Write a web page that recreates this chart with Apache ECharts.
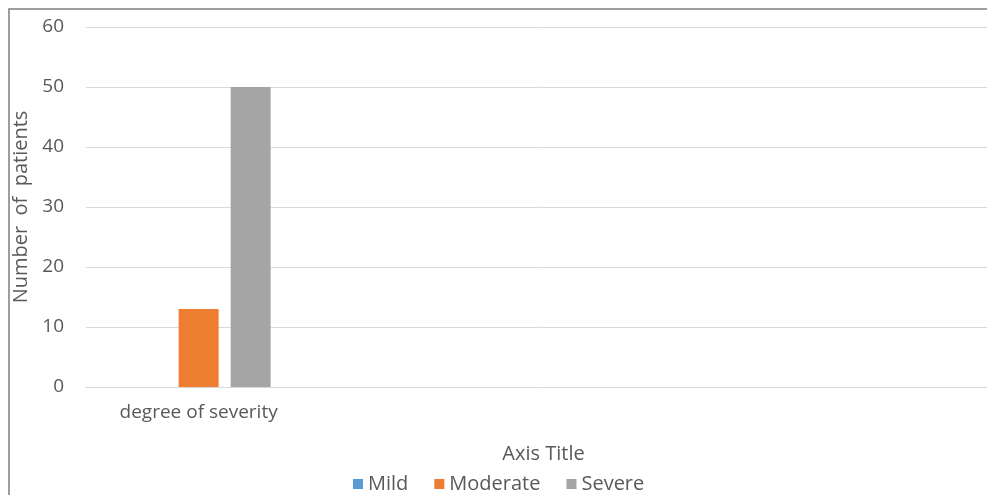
<!DOCTYPE html>
<html>
<head>
<meta charset="utf-8">
<script src="https://cdn.jsdelivr.net/npm/echarts@6/dist/echarts.min.js"></script>
<style>
  html, body { margin: 0; padding: 0; background: #ffffff; }
  #chart { width: 987px; height: 495px; }
</style>
</head>
<body>
<div id="chart"></div>
<script>
// Categories along the x axis (only the first one is labelled)
const categories = ['degree of severity', '', '', ''];
// Patient counts per severity group
const mildValues = [0, null, null, null];
const moderateValues = [13, null, null, null];
const severeValues = [50, null, null, null];
// Value axis ticks
const yTicks = [0, 10, 20, 30, 40, 50, 60];

const seriesNames = ['Mild', 'Moderate', 'Severe'];
const seriesColors = ['#5b9bd5', '#ed7d31', '#a5a5a5'];
const seriesValues = [mildValues, moderateValues, severeValues];

const textColor = '#595959';
const fontFamily = '"Open Sans", sans-serif';

const chart = echarts.init(document.getElementById('chart'));

chart.setOption({
  animation: false,
  backgroundColor: '#ffffff',
  textStyle: { fontFamily: fontFamily },
  graphic: [
    {
      type: 'polyline',
      shape: { points: [[9, 600], [9, 9], [1100, 9]] },
      style: { stroke: '#7f7f7f', lineWidth: 1.5, fill: null },
      silent: true
    }
  ],
  legend: {
    data: seriesNames,
    left: 348,
    top: 469,
    itemWidth: 10,
    itemHeight: 10,
    itemGap: 26,
    icon: 'rect',
    textStyle: { color: textColor, fontSize: 20, fontFamily: fontFamily }
  },
  grid: {
    left: 86,
    top: 27,
    width: 914,
    height: 360,
    containLabel: false
  },
  xAxis: {
    type: 'category',
    data: categories,
    name: 'Axis Title',
    nameLocation: 'middle',
    nameGap: 57,
    nameTextStyle: { color: textColor, fontSize: 20, fontFamily: fontFamily, padding: [0, 0, 0, 14] },
    axisLine: { show: true, lineStyle: { color: '#d9d9d9', width: 1 } },
    axisTick: { show: false },
    axisLabel: { color: textColor, fontSize: 19, margin: 16, fontFamily: fontFamily },
    splitLine: { show: false }
  },
  yAxis: {
    type: 'value',
    min: yTicks[0],
    max: yTicks[yTicks.length - 1],
    interval: yTicks[1] - yTicks[0],
    name: 'Number  of  patients',
    nameLocation: 'middle',
    nameGap: 50,
    nameTextStyle: { color: textColor, fontSize: 20, fontFamily: fontFamily },
    axisLine: { show: false },
    axisTick: { show: false },
    axisLabel: { color: textColor, fontSize: 19, margin: 22, fontFamily: fontFamily },
    splitLine: { show: true, lineStyle: { color: '#d9d9d9', width: 1 } }
  },
  series: seriesNames.map((name, i) => ({
    name: name,
    type: 'bar',
    data: seriesValues[i],
    barWidth: 40,
    barGap: '30%',
    itemStyle: { color: seriesColors[i] }
  }))
});
</script>
</body>
</html>
